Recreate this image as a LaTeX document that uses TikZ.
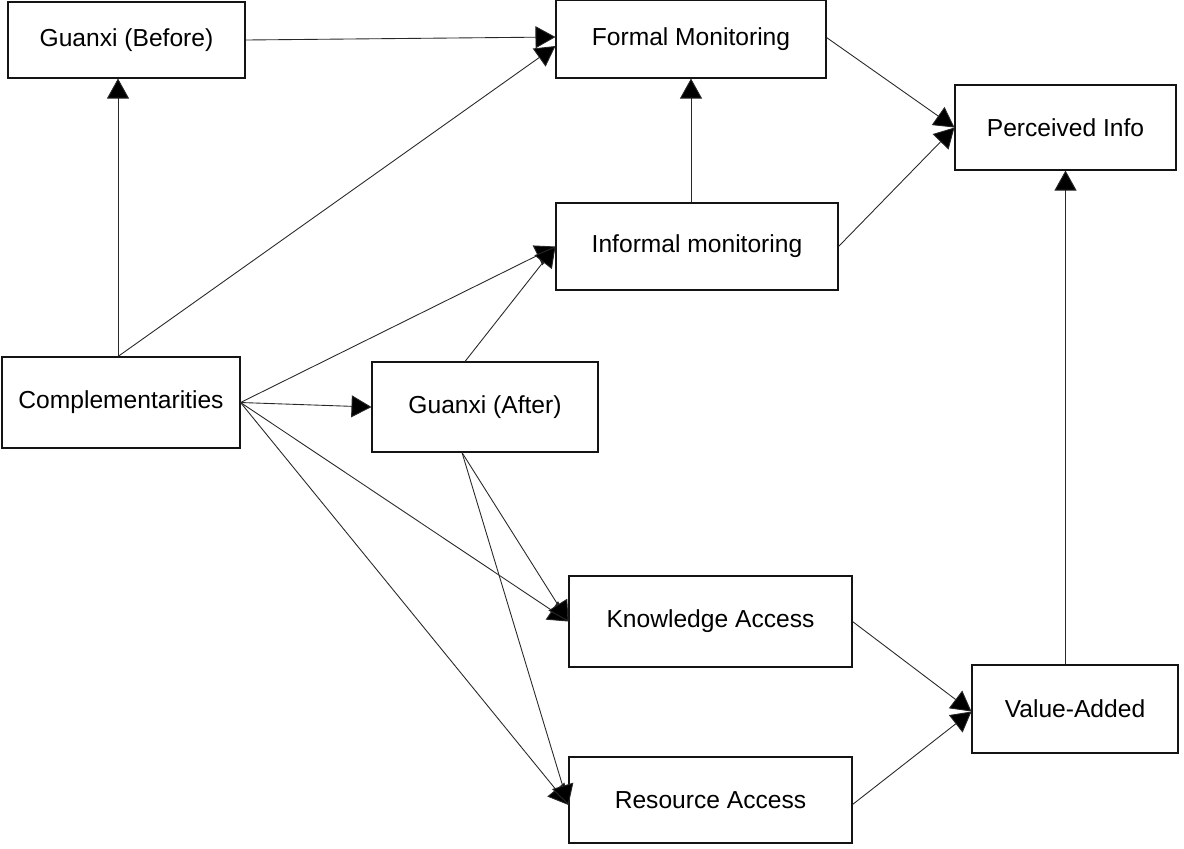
\documentclass[tikz,border=0pt]{standalone}
\usepackage{fontspec}
\setmainfont{Liberation Sans}
\usepackage{xcolor}
\usetikzlibrary{arrows.meta, positioning, calc}
\definecolor{BoxLine}{RGB}{20,20,20}
\definecolor{LinkLine}{RGB}{40,40,40}

\begin{document}
\begin{tikzpicture}[
    box/.style={draw=BoxLine, line width=0.6pt, fill=white, inner sep=0pt,
      font=\fontsize{14}{16}\selectfont},
    link/.style={draw=LinkLine, line width=0.5pt,
      -{Triangle[length=4mm,width=4.4mm,fill=black]}}
  ]
  \useasboundingbox (0,0) rectangle (23.68,-16.96);
  \fill[white] (0,0) rectangle (23.68,-16.96);
  % Boxes
  \node[box, minimum width=4.74cm, minimum height=1.52cm] (gb) at (2.53,-0.80) {Guanxi (Before)};
  \node[box, minimum width=5.40cm, minimum height=1.56cm] (fm) at (13.82,-0.78) {Formal Monitoring};
  \node[box, minimum width=4.42cm, minimum height=1.70cm] (pi) at (21.31,-2.55) {Perceived Info};
  \node[box, minimum width=5.64cm, minimum height=1.74cm] (im) at (13.94,-4.93) {Informal monitoring};
  \node[box, minimum width=4.76cm, minimum height=1.82cm] (comp) at (2.42,-8.05) {Complementarities};
  \node[box, minimum width=4.52cm, minimum height=1.80cm] (ga) at (9.70,-8.14) {Guanxi (After)};
  \node[box, minimum width=5.66cm, minimum height=1.82cm] (ka) at (14.21,-12.43) {Knowledge Access};
  \node[box, minimum width=4.12cm, minimum height=1.76cm] (va) at (21.50,-14.18) {Value-Added};
  \node[box, minimum width=5.66cm, minimum height=1.72cm] (ra) at (14.21,-16.00) {Resource Access};
  % Connectors
  \coordinate (compTop) at ([xshift=-0.6mm]comp.north);
  \coordinate (gaTop) at ([xshift=-4mm]ga.north);
  \coordinate (gaBot) at ([xshift=-4.6mm]ga.south);
  \draw[link] (gb.east) -- ([yshift=0.4mm]fm.west);
  \draw[link] (compTop) -- (compTop |- gb.south);
  \draw[link] (compTop) -- ([yshift=-1.4mm]fm.west);
  \draw[link] (comp.east) -- (im.west);
  \draw[link] (gaTop) -- (im.west);
  \draw[link] (comp.east) -- (ga.west);
  \draw[link] (comp.east) -- (ka.west);
  \draw[link] (gaBot) -- (ka.west);
  \draw[link] (comp.east) -- ([yshift=-1mm]ra.west);
  \draw[link] (gaBot) -- ([yshift=-1mm]ra.west);
  \draw[link] (fm.south |- im.north) -- (fm.south);
  \draw[link] ([yshift=0.3mm]fm.east) -- (pi.west);
  \draw[link] (im.east) -- (pi.west);
  \draw[link] (ka.east) -- ([yshift=-0.5mm]va.west);
  \draw[link] ([yshift=-0.9mm]ra.east) -- ([yshift=-0.5mm]va.west);
  \draw[link] (pi.south |- va.north) -- (pi.south);
\end{tikzpicture}
\end{document}
